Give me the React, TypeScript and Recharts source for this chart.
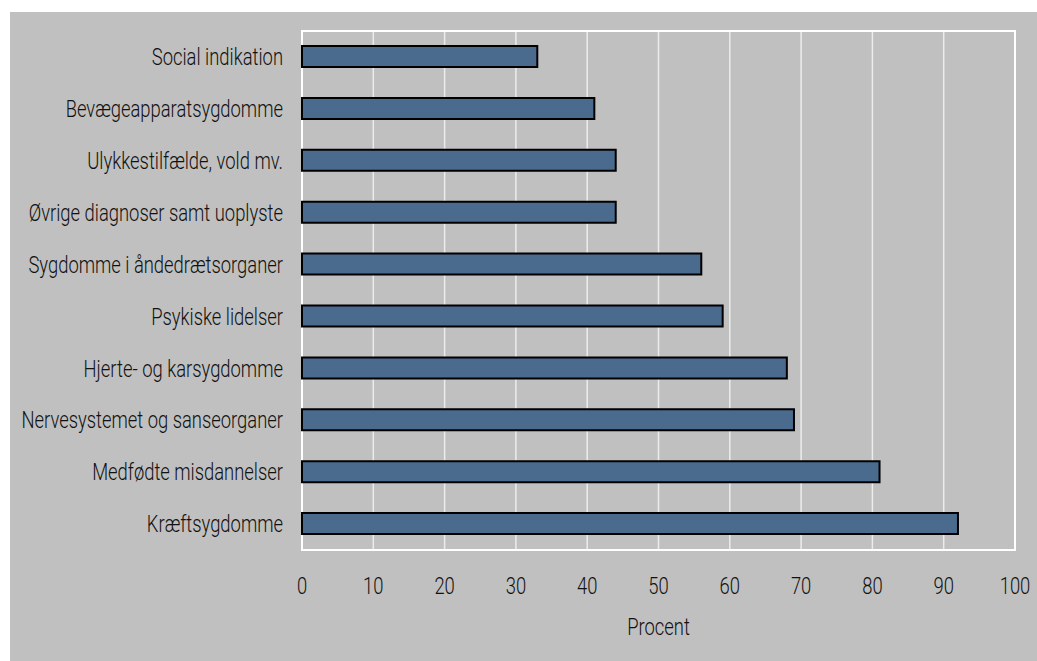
import { BarChart, Bar, XAxis, YAxis, CartesianGrid, ReferenceArea } from 'recharts'

const categories = [
  'Social indikation',
  'Bevægeapparatsygdomme',
  'Ulykkestilfælde, vold mv.',
  'Øvrige diagnoser samt uoplyste',
  'Sygdomme i åndedrætsorganer',
  'Psykiske lidelser',
  'Hjerte- og karsygdomme',
  'Nervesystemet og sanseorganer',
  'Medfødte misdannelser',
  'Kræftsygdomme',
]
const values = [33, 41, 44, 44, 56, 59, 68, 69, 81, 92]
const xTicks = [0, 10, 20, 30, 40, 50, 60, 70, 80, 90, 100]

const data = categories.map((name, i) => ({ name, value: values[i] }))

const FONT = 'Roboto, "Noto Sans", sans-serif'
const FONT_SIZE = 23
const SQUEEZE = 0.8

// condensed look: squeeze the text horizontally
const NarrowText = ({ x, y, anchor, dy, children }: any) => (
  <text
    transform={`translate(${x},${y}) scale(${SQUEEZE},1)`}
    x={0}
    y={0}
    dy={dy}
    textAnchor={anchor}
    fill="#111"
    fontSize={FONT_SIZE}
    fontWeight={300}
    fontFamily={FONT}
  >
    {children}
  </text>
)

const YTick = (props: any) => (
  <NarrowText x={props.x} y={props.y} anchor="end" dy="0.355em">
    {props.payload.value}
  </NarrowText>
)

const XTick = (props: any) => (
  <NarrowText x={props.x} y={props.y} anchor="middle" dy="0.71em">
    {props.payload.value}
  </NarrowText>
)

const AxisTitle = (props: any) => {
  const vb = props.viewBox
  return (
    <NarrowText x={vb.x + vb.width / 2} y={vb.y + vb.height - 26} anchor="middle" dy={0}>
      Procent
    </NarrowText>
  )
}

const App = () => {
  return (
    <div style={{ position: 'absolute', left: 10, top: 12, width: 1027, height: 649, background: '#c0c0c0' }}>
      <BarChart
        width={1027}
        height={649}
        data={data}
        layout="vertical"
        margin={{ top: 19, right: 22, left: 0, bottom: 0 }}
      >
        <CartesianGrid horizontal={false} stroke="#ececec" strokeWidth={1.5} />
        <XAxis
          type="number"
          domain={[0, 100]}
          ticks={xTicks}
          height={111}
          tickLine={false}
          axisLine={false}
          tickMargin={22}
          tick={<XTick />}
          label={{ content: <AxisTitle /> }}
        />
        <YAxis
          type="category"
          dataKey="name"
          width={292}
          tickLine={false}
          axisLine={false}
          tickMargin={13}
          interval={0}
          tick={<YTick />}
        />
        <Bar dataKey="value" fill="#4a6b8e" stroke="#000" strokeWidth={2} barSize={21} isAnimationActive={false} />
        <ReferenceArea x1={0} x2={100} fill="none" stroke="#ffffff" strokeWidth={2} fillOpacity={0} />
      </BarChart>
    </div>
  )
}

export default App
